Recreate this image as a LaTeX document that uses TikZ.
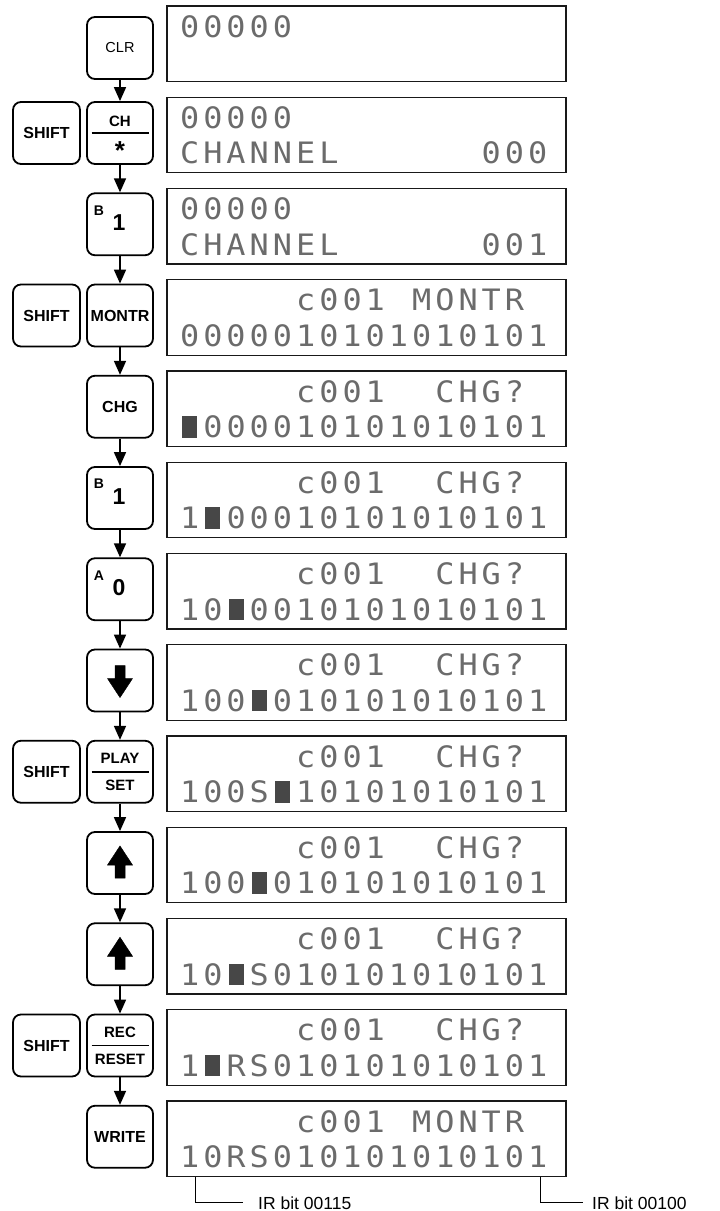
\documentclass[tikz,border=0pt]{standalone}
\usepackage{fontspec}
\setmainfont{Liberation Sans}
\newfontfamily\lcdfont[FakeStretch=1.08]{DejaVu Sans Mono}
\usetikzlibrary{arrows.meta}

\def\lcdend{LCDEND}
\def\lcdloop#1{\ifx#1\lcdend\else\makebox[23.2pt][c]{#1}\expandafter\lcdloop\fi}
\newcommand\lcdtext[1]{\lcdloop#1\lcdend}
\newcommand\blk{{\color{black!72}\rule{15pt}{21.5pt}}}

\tikzset{
  keybox/.style={draw, line width=1.8pt, rounded corners=8pt, minimum width=66pt,
    minimum height=62pt, inner sep=0pt, font=\fontsize{16}{16}\selectfont\bfseries},
  shiftkey/.style={keybox, minimum width=67pt},
  dispbox/.style={draw=black!90, line width=1.1pt, minimum width=399pt,
    minimum height=75.5pt, inner sep=0pt},
  lcd/.style={anchor=base west, inner sep=0pt, text=black!58,
    font=\lcdfont\fontsize{29.5}{30}\selectfont},
  flow/.style={-{Triangle[length=14pt,width=12pt]}, line width=1.6pt},
  lbl/.style={anchor=base west, inner sep=0pt, font=\fontsize{17.5}{18}\selectfont},
  leader/.style={line width=1pt},
  keylab/.style={inner sep=0pt, font=\fontsize{15}{15}\selectfont\bfseries},
  keystar/.style={inner sep=0pt, font=\fontsize{26}{26}\selectfont\bfseries},
  keytop/.style={inner sep=0pt, font=\fontsize{14}{14}\selectfont\bfseries},
  keybig/.style={inner sep=0pt, font=\fontsize{23}{23}\selectfont\bfseries},
  splitline/.style={line width=1.5pt},
  keyarrow/.style={fill=black, draw=black, line width=0.5pt, line join=miter},
}

% name, display index, row (1/2), column, text
\newcommand\lcdat[5]{\node[lcd] (#1) at ({177.9+23.2*#4},{6+91.25*#2+31+35.5*(#3-1)}) {\lcdtext{#5}};}

\begin{document}
\begin{tikzpicture}[x=1pt,y=-1pt]
\useasboundingbox (0,0) rectangle (720,1211);

% displays
\foreach \i in {0,...,12}
  \node[dispbox] (d\i) at (366.5,{6+91.25*\i+37.75}) {};

% display texts
\lcdat{t0a}{0}{1}{0}{00000}
\lcdat{t1a}{1}{1}{0}{00000}
\lcdat{t1b}{1}{2}{0}{CHANNEL}
\lcdat{t1c}{1}{2}{13}{000}
\lcdat{t2a}{2}{1}{0}{00000}
\lcdat{t2b}{2}{2}{0}{CHANNEL}
\lcdat{t2c}{2}{2}{13}{001}
\lcdat{t3a}{3}{1}{5}{c001}
\lcdat{t3b}{3}{1}{10}{MONTR}
\lcdat{t3c}{3}{2}{0}{0000010101010101}
\foreach \i in {4,...,11}{
  \lcdat{t\i a}{\i}{1}{5}{c001}
  \lcdat{t\i b}{\i}{1}{11}{CHG?}
}
\lcdat{t4c}{4}{2}{0}{\blk000010101010101}
\lcdat{t5c}{5}{2}{0}{1\blk00010101010101}
\lcdat{t6c}{6}{2}{0}{10\blk0010101010101}
\lcdat{t7c}{7}{2}{0}{100\blk010101010101}
\lcdat{t8c}{8}{2}{0}{100S\blk10101010101}
\lcdat{t9c}{9}{2}{0}{100\blk010101010101}
\lcdat{t10c}{10}{2}{0}{10\blk S010101010101}
\lcdat{t11c}{11}{2}{0}{1\blk RS010101010101}
\lcdat{t12a}{12}{1}{5}{c001}
\lcdat{t12b}{12}{1}{10}{MONTR}
\lcdat{t12c}{12}{2}{0}{10RS010101010101}

% keys
\node[keybox, font=\fontsize{14.5}{15}\selectfont] (k0) at (120,48) {CLR};

\node[shiftkey] (s1) at (46.5,133) {SHIFT};
\node[keybox] (k1) at (120,133) {};
\node[keylab] (k1a) at ([yshift=12pt]k1.center) {CH};
\draw[splitline] ([xshift=-28.5pt]k1.center) -- ([xshift=28.5pt]k1.center);
\node[keystar] (k1b) at ([yshift=-18pt]k1.center) {*};

\node[keybox] (k2) at (120,224.25) {};
\node[keytop] (k2a) at ([xshift=-21pt,yshift=14pt]k2.center) {B};
\node[keybig] (k2b) at ([xshift=-1pt,yshift=1.5pt]k2.center) {1};

\node[shiftkey] (s3) at (46.5,315.5) {SHIFT};
\node[keybox] (k3) at (120,315.5) {MONTR};

\node[keybox] (k4) at (120,406.75) {CHG};

\node[keybox] (k5) at (120,498) {};
\node[keytop] (k5a) at ([xshift=-21pt,yshift=14pt]k5.center) {B};
\node[keybig] (k5b) at ([xshift=-1pt,yshift=1.5pt]k5.center) {1};

\node[keybox] (k6) at (120,589.25) {};
\node[keytop] (k6a) at ([xshift=-21pt,yshift=14pt]k6.center) {A};
\node[keybig] (k6b) at ([xshift=-1pt,yshift=1.5pt]k6.center) {0};

\node[keybox] (k7) at (120,680.5) {};
\begin{scope}[shift={(k7.center)}]
  \draw[keyarrow] (-5,-15) -- (5,-15) -- (5,-2) -- (12.5,-2) -- (0,17) -- (-12.5,-2) -- (-5,-2) -- cycle;
\end{scope}

\node[shiftkey] (s8) at (46.5,771.75) {SHIFT};
\node[keybox] (k8) at (120,771.75) {};
\node[keylab] (k8a) at ([yshift=13pt]k8.center) {PLAY};
\draw[splitline] ([xshift=-28.5pt]k8.center) -- ([xshift=28.5pt]k8.center);
\node[keylab] (k8b) at ([yshift=-14pt]k8.center) {SET};

\node[keybox] (k9) at (120,863) {};
\begin{scope}[shift={(k9.center)}]
  \draw[keyarrow] (-5,15) -- (5,15) -- (5,2) -- (12.5,2) -- (0,-17) -- (-12.5,2) -- (-5,2) -- cycle;
\end{scope}

\node[keybox] (k10) at (120,954.25) {};
\begin{scope}[shift={(k10.center)}]
  \draw[keyarrow] (-5,15) -- (5,15) -- (5,2) -- (12.5,2) -- (0,-17) -- (-12.5,2) -- (-5,2) -- cycle;
\end{scope}

\node[shiftkey] (s11) at (46.5,1045.5) {SHIFT};
\node[keybox] (k11) at (120,1045.5) {};
\node[keylab] (k11a) at ([yshift=13pt]k11.center) {REC};
\draw[splitline] ([xshift=-28.5pt]k11.center) -- ([xshift=28.5pt]k11.center);
\node[keylab] (k11b) at ([yshift=-14pt]k11.center) {RESET};

\node[keybox] (k12) at (120,1136.75) {WRITE};

% flow arrows
\foreach \a/\b in {0/1,1/2,2/3,3/4,4/5,5/6,6/7,7/8,8/9,9/10,10/11,11/12}
  \draw[flow] (k\a.south) -- (k\b.north);

% bit labels
\node[lbl] (l1) at (258,1209) {IR bit 00115};
\node[lbl] (l2) at (592,1209) {IR bit 00100};
\coordinate (b1) at (195,1176.5);
\coordinate (b2) at (540,1176.5);
\draw[leader] (b1) |- ([xshift=-15pt]l1.west);
\draw[leader] (b2) |- ([xshift=-9pt]l2.west);
\end{tikzpicture}
\end{document}
